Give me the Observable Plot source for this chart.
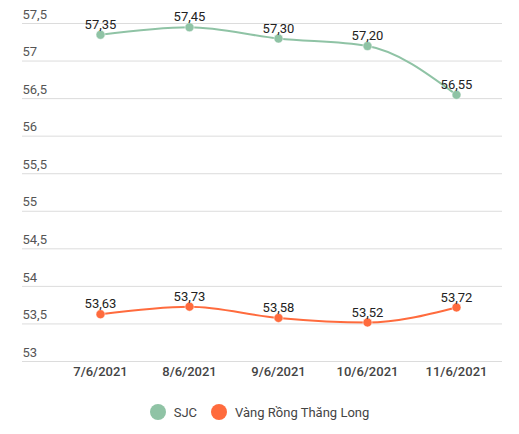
<!DOCTYPE html>
<html><head><meta charset="utf-8">
<script src="https://cdn.jsdelivr.net/npm/d3@7"></script>
<script src="https://cdn.jsdelivr.net/npm/@observablehq/plot@0.6"></script>
<style>
body{margin:0;background:#fff;font-family:Roboto,"Noto Sans",sans-serif;}
#legend{display:flex;justify-content:center;align-items:center;gap:6px;height:44px;font-size:13px;color:#444;}
.item{display:flex;align-items:center;margin:0 4px;}
.sw{width:16px;height:16px;border-radius:50%;display:inline-block;margin-right:8px;}
</style>
</head><body>
<div id="chart"></div>
<div id="legend"></div>
<script>
const dates = ["7/6/2021","8/6/2021","9/6/2021","10/6/2021","11/6/2021"];
const sjc = [57.35, 57.45, 57.30, 57.20, 56.55];
const vrtl = [53.63, 53.73, 53.58, 53.52, 53.72];
const seriesNames = ["SJC","Vàng Rồng Thăng Long"];
const colors = ["#8fc3a5","#ff6b3d"];
const yTicks = [53,53.5,54,54.5,55,55.5,56,56.5,57,57.5];

const fmt = v => String(v).replace(".", ",");
const fmt2 = v => v.toFixed(2).replace(".", ",");

const data = [];
dates.forEach((d,i)=>{ data.push({date:d, value:sjc[i], series:seriesNames[0]}); });
dates.forEach((d,i)=>{ data.push({date:d, value:vrtl[i], series:seriesNames[1]}); });

const chart = Plot.plot({
  width: 519,
  height: 390,
  marginLeft: 22,
  marginRight: 17,
  marginTop: 23,
  marginBottom: 29,
  style: {fontFamily: "Roboto, sans-serif", fontSize: "13px", background: "#fff"},
  x: {type: "point", domain: dates, range: [98, 457], padding: 0, axis: null},
  y: {domain: [53, 57.5], axis: null},
  color: {domain: seriesNames, range: colors},
  marks: [
    Plot.ruleY(yTicks, {stroke: "#dcdcdc", strokeWidth: 1}),
    Plot.text(yTicks, {y: d => d, frameAnchor: "left", text: d => fmt(d), textAnchor: "start", dy: -9, fill: "#555", fontSize: 13}),
    Plot.text(dates, {x: d => d, frameAnchor: "bottom", text: d => d, dy: 14, fill: "#444", fontSize: 13, fontWeight: 500}),
    Plot.line(data, {x: "date", y: "value", z: "series", stroke: "series", strokeWidth: 2, curve: "monotone-x"}),
    Plot.dot(data, {x: "date", y: "value", fill: "series", r: 4.5, stroke: "white", strokeWidth: 0.5}),
    Plot.text(data, {x: "date", y: "value", text: d => fmt2(d.value), dy: -10, fill: "#222", fontSize: 13})
  ]
});
document.getElementById("chart").appendChild(chart);

const lg = document.getElementById("legend");
seriesNames.forEach((n,i)=>{
  const it = document.createElement("span"); it.className="item";
  const sw = document.createElement("span"); sw.className="sw"; sw.style.background = colors[i];
  it.appendChild(sw); it.appendChild(document.createTextNode(n));
  lg.appendChild(it);
});
</script>
</body></html>
